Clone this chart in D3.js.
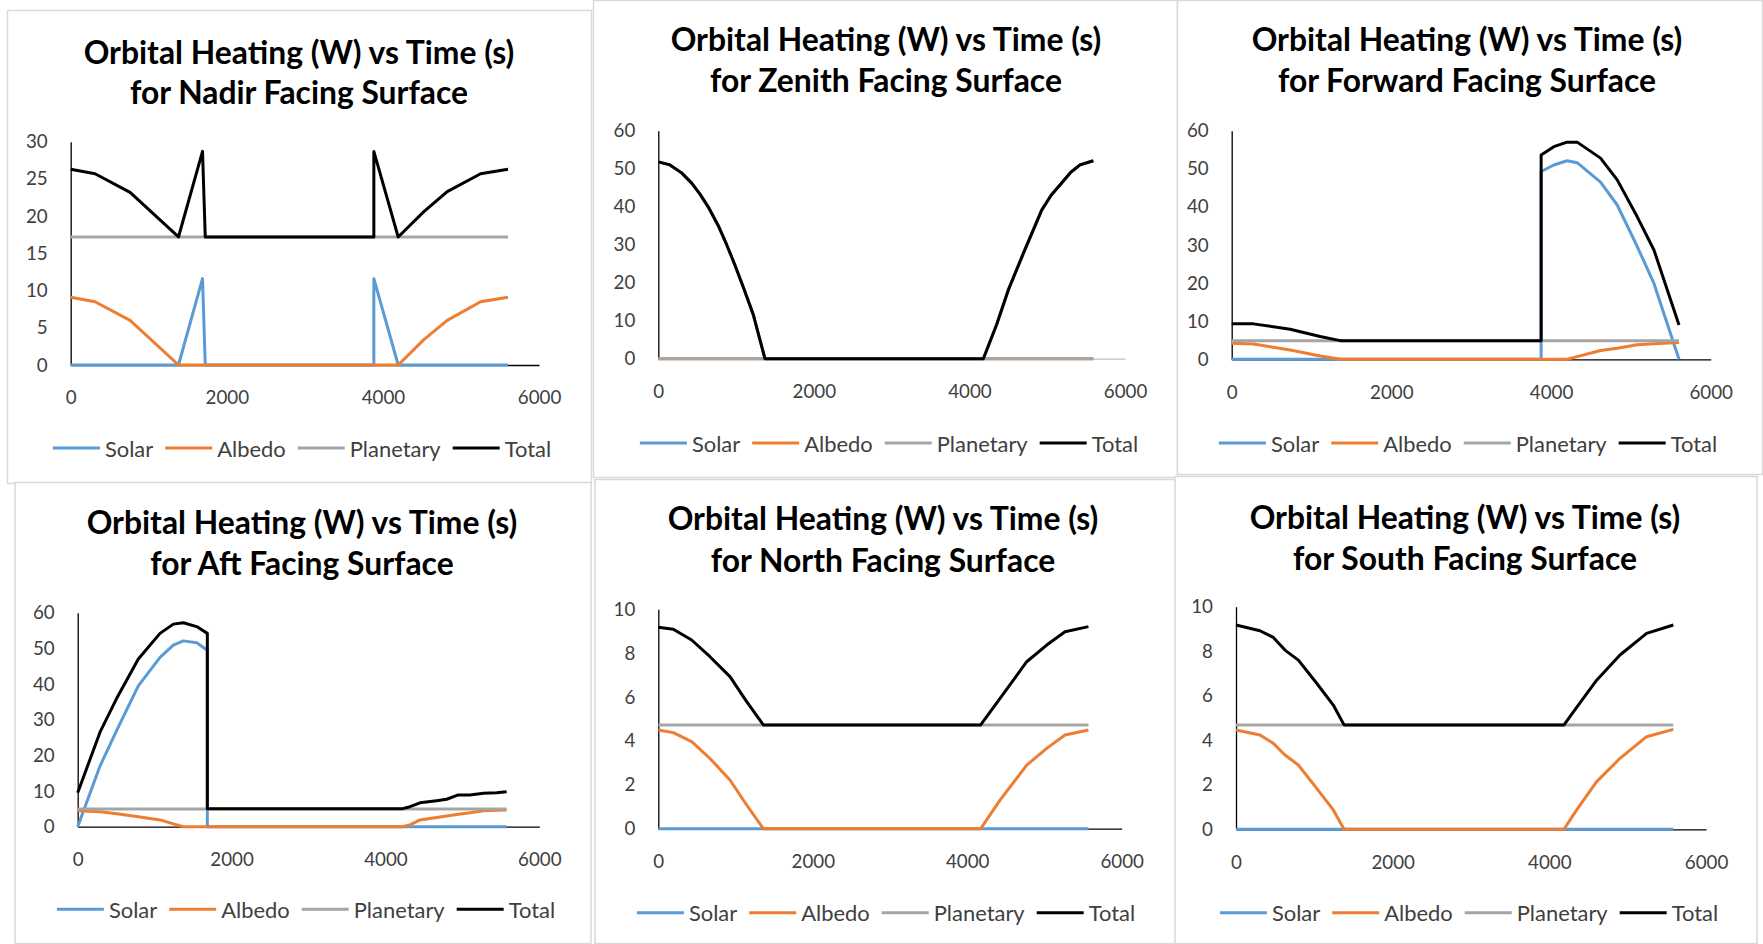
<!DOCTYPE html>
<html><head><meta charset="utf-8">
<script src="https://cdn.jsdelivr.net/npm/d3@7"></script>
<style>
html,body{margin:0;padding:0;background:#fff;}
svg{display:block;}
</style></head><body>
<svg id="c" width="1763" height="944"></svg>
<script>
// ---------------- DATA ----------------
const xTicks = [0, 2000, 4000, 6000];
const seriesNames = ["Solar", "Albedo", "Planetary", "Total"];
const seriesColors = ["#5B9BD5", "#ED7D31", "#A5A5A5", "#000000"];
const titleLine1 = "Orbital Heating (W) vs Time (s)";
const surfaceNames = ["Nadir", "Zenith", "Forward", "Aft", "North", "South"];

const nadirYTicks = [0, 5, 10, 15, 20, 25, 30];
const nadirTime = [0, 312, 761, 1381, 1689, 1724, 3884, 3884, 4196, 4525, 4824, 5252, 5603];
const nadirSolar = [0, 0, 0, 0, 11.6, 0, 0, 11.6, 0, 0, 0, 0, 0];
const nadirAlbedo = [9.1, 8.5, 6.0, 0, 0, 0, 0, 0, 0, 3.4, 6.0, 8.5, 9.1];
const nadirPlanetary = [17.2, 17.2, 17.2, 17.2, 17.2, 17.2, 17.2, 17.2, 17.2, 17.2, 17.2, 17.2, 17.2];
const nadirTotal = [26.3, 25.7, 23.2, 17.2, 28.7, 17.2, 17.2, 28.7, 17.2, 20.6, 23.3, 25.7, 26.3];

const zenithYTicks = [0, 10, 20, 30, 40, 50, 60];
const zenithTime = [0, 150, 300, 429, 536, 643, 771, 879, 986, 1093, 1221, 1371, 4179, 4350, 4500, 4693, 4929, 5050, 5164, 5300, 5421, 5593];
const zenithSolar = [51.8, 51.0, 48.9, 46.2, 43.3, 39.9, 35.0, 30.0, 24.6, 18.8, 11.6, 0, 0, 9.0, 18.1, 27.7, 39.1, 43.0, 45.7, 49.0, 51.0, 52.1];
const zenithAlbedo = [0, 0, 0, 0, 0, 0, 0, 0, 0, 0, 0, 0, 0, 0, 0, 0, 0, 0, 0, 0, 0, 0];
const zenithPlanetary = [0, 0, 0, 0, 0, 0, 0, 0, 0, 0, 0, 0, 0, 0, 0, 0, 0, 0, 0, 0, 0, 0];
const zenithTotal = [51.8, 51.0, 48.9, 46.2, 43.3, 39.9, 35.0, 30.0, 24.6, 18.8, 11.6, 0, 0, 9.0, 18.1, 27.7, 39.1, 43.0, 45.7, 49.0, 51.0, 52.1];

const forwardYTicks = [0, 10, 20, 30, 40, 50, 60];
const forwardTime = [0, 272, 732, 1108, 1359, 3876, 3876, 4035, 4202, 4327, 4620, 4829, 5080, 5289, 5603];
const forwardSolar = [0, 0, 0, 0, 0, 0, 49.3, 51.0, 52.1, 51.6, 46.5, 40.5, 29.6, 19.9, 0];
const forwardAlbedo = [4.2, 4.0, 2.45, 0.87, 0, 0, 0, 0, 0, 0.7, 2.3, 2.9, 3.8, 4.1, 4.4];
const forwardPlanetary = [4.9, 4.9, 4.9, 4.9, 4.9, 4.9, 4.9, 4.9, 4.9, 4.9, 4.9, 4.9, 4.9, 4.9, 4.9];
const forwardTotal = [9.3, 9.3, 7.9, 6.0, 4.9, 4.9, 53.6, 55.8, 57.0, 57.0, 52.8, 47.1, 37.4, 28.7, 9.0];

const aftYTicks = [0, 10, 20, 30, 40, 50, 60];
const aftTime = [0, 290, 507, 788, 1070, 1243, 1373, 1547, 1685, 1685, 4211, 4319, 4449, 4665, 4796, 4947, 5099, 5272, 5445, 5575];
const aftSolar = [0, 17.0, 27.0, 39.5, 47.5, 50.9, 52.1, 51.6, 49.5, 0, 0, 0, 0, 0, 0, 0, 0, 0, 0, 0];
const aftAlbedo = [4.5, 4.2, 3.6, 2.8, 1.9, 0.8, 0, 0, 0, 0, 0, 0.5, 1.9, 2.6, 3.0, 3.5, 3.9, 4.5, 4.6, 4.7];
const aftPlanetary = [4.95, 4.95, 4.95, 4.95, 4.95, 4.95, 4.95, 4.95, 4.95, 4.95, 4.95, 4.95, 4.95, 4.95, 4.95, 4.95, 4.95, 4.95, 4.95, 4.95];
const aftTotal = [9.5, 26.5, 36.0, 47.0, 54.2, 56.8, 57.2, 56.1, 54.2, 5.0, 5.0, 5.6, 6.7, 7.3, 7.7, 8.9, 8.9, 9.35, 9.5, 9.8];

const northYTicks = [0, 2, 4, 6, 8, 10];
const northTime = [0, 194, 432, 669, 928, 1144, 1360, 4174, 4425, 4770, 5029, 5266, 5569];
const northSolar = [0, 0, 0, 0, 0, 0, 0, 0, 0, 0, 0, 0, 0];
const northAlbedo = [4.5, 4.38, 3.97, 3.2, 2.22, 1.08, 0, 0, 1.3, 2.9, 3.66, 4.27, 4.5];
const northPlanetary = [4.73, 4.73, 4.73, 4.73, 4.73, 4.73, 4.73, 4.73, 4.73, 4.73, 4.73, 4.73, 4.73];
const northTotal = [9.18, 9.09, 8.6, 7.84, 6.93, 5.79, 4.73, 4.73, 5.94, 7.61, 8.37, 8.98, 9.21];

const southYTicks = [0, 2, 4, 6, 8, 10];
const southTime = [0, 306, 477, 625, 796, 1030, 1242, 1379, 4187, 4349, 4604, 4902, 5242, 5583];
const southSolar = [0, 0, 0, 0, 0, 0, 0, 0, 0, 0, 0, 0, 0, 0];
const southAlbedo = [4.46, 4.24, 3.86, 3.34, 2.89, 1.84, 0.87, 0, 0, 0.87, 2.14, 3.19, 4.16, 4.49];
const southPlanetary = [4.69, 4.69, 4.69, 4.69, 4.69, 4.69, 4.69, 4.69, 4.69, 4.69, 4.69, 4.69, 4.69, 4.69];
const southTotal = [9.18, 8.92, 8.62, 8.05, 7.6, 6.56, 5.58, 4.69, 4.69, 5.48, 6.7, 7.83, 8.8, 9.18];

const panels = [
  {time: nadirTime, series: [nadirSolar, nadirAlbedo, nadirPlanetary, nadirTotal], yTicks: nadirYTicks},
  {time: zenithTime, series: [zenithSolar, zenithAlbedo, zenithPlanetary, zenithTotal], yTicks: zenithYTicks},
  {time: forwardTime, series: [forwardSolar, forwardAlbedo, forwardPlanetary, forwardTotal], yTicks: forwardYTicks},
  {time: aftTime, series: [aftSolar, aftAlbedo, aftPlanetary, aftTotal], yTicks: aftYTicks},
  {time: northTime, series: [northSolar, northAlbedo, northPlanetary, northTotal], yTicks: northYTicks},
  {time: southTime, series: [southSolar, southAlbedo, southPlanetary, southTotal], yTicks: southYTicks}
];

// ---------------- LAYOUT ----------------
const layout = [
  {box: [7, 10, 584, 473], x0: 70.7, x1: 539, yb: 365, yt: 141.7, tx: 299, ty: [51.7, 91.7], lx: 302, ly: 448, axisColor: "#000"},
  {box: [593, 0, 584, 477], x0: 658.3, x1: 1125, yb: 358.7, yt: 130.7, tx: 886, ty: [39.3, 80], lx: 889, ly: 443, axisColor: "#bfbfbf"},
  {box: [1177, 0, 585, 474], x0: 1231.7, x1: 1710.7, yb: 359.3, yt: 130.7, tx: 1467, ty: [39.3, 80], lx: 1468, ly: 443, axisColor: "#000"},
  {box: [14.5, 482, 576, 461], x0: 77.7, x1: 539.3, yb: 826.7, yt: 612.7, tx: 302, ty: [521.7, 563.3], lx: 306, ly: 909.3, axisColor: "#000"},
  {box: [594.5, 479, 583, 464], x0: 658.3, x1: 1121.7, yb: 828.7, yt: 609.3, tx: 883, ty: [518.3, 560], lx: 886, ly: 912.7, axisColor: "#000"},
  {box: [1174.5, 476, 582, 467], x0: 1236, x1: 1706, yb: 829.3, yt: 606.7, tx: 1465, ty: [516.7, 558.3], lx: 1469, ly: 912.7, axisColor: "#000"}
];

const FONT = "Lato, 'Open Sans', sans-serif";
const svg = d3.select("#c");

// measure helper to choose font sizes close to the reference text widths
function widthAt(text, size, weight) {
  const t = svg.append("text").attr("font-family", FONT).attr("font-size", size)
    .attr("font-weight", weight).text(text);
  const w = t.node().getComputedTextLength();
  t.remove();
  return w;
}
const titleSize = 100 * 431 / widthAt(titleLine1, 100, "bold");
const tickSize = 100 * 43.5 / widthAt("6000", 100, "normal");
const legendSize = 100 * 91 / widthAt("Planetary", 100, "normal");

svg.append("rect").attr("width", 1763).attr("height", 944).attr("fill", "#fff");

panels.forEach((p, i) => {
  const L = layout[i];
  const g = svg.append("g");
  g.append("rect")
    .attr("x", L.box[0] + 0.5).attr("y", L.box[1] + 0.5)
    .attr("width", L.box[2]).attr("height", L.box[3])
    .attr("fill", "#fff").attr("stroke", "#d9d9d9").attr("stroke-width", 1.5);

  const yMax = d3.max(p.yTicks);
  const x = d3.scaleLinear().domain([0, d3.max(xTicks)]).range([L.x0, L.x1]);
  const y = d3.scaleLinear().domain([0, yMax]).range([L.yb, L.yt]);

  // titles
  const titleLines = [titleLine1, "for " + surfaceNames[i] + " Facing Surface"];
  titleLines.forEach((t, k) => {
    g.append("text").attr("x", L.tx).attr("y", L.ty[k])
      .attr("text-anchor", "middle").attr("dominant-baseline", "central")
      .attr("font-family", FONT).attr("font-weight", "bold")
      .attr("font-size", titleSize).attr("fill", "#000").text(t);
  });

  // axes
  const xa = g.append("g").attr("transform", `translate(0,${L.yb})`)
    .call(d3.axisBottom(x).tickValues(xTicks).tickSize(0).tickSizeOuter(0)
      .tickPadding(26).tickFormat(d3.format("d")));
  xa.select(".domain").attr("stroke", L.axisColor).attr("stroke-width", 1.3);
  const ya = g.append("g").attr("transform", `translate(${L.x0},0)`)
    .call(d3.axisLeft(y).tickValues(p.yTicks).tickSize(0).tickSizeOuter(0)
      .tickPadding(23).tickFormat(d3.format("d")));
  ya.select(".domain").attr("stroke", "#000").attr("stroke-width", 1.3);
  [xa, ya].forEach(a => {
    a.selectAll("text").attr("font-family", FONT).attr("font-size", tickSize).attr("fill", "#404040");
  });

  // series
  const line = d3.line().x((d, j) => x(p.time[j])).y(d => y(d));
  p.series.forEach((s, k) => {
    g.append("path").datum(s).attr("d", line)
      .attr("fill", "none").attr("stroke", seriesColors[k])
      .attr("stroke-width", 3).attr("stroke-linejoin", "round");
  });

  // legend
  const lineLen = 47, gap1 = 5, gap2 = 12;
  const widths = seriesNames.map(n => widthAt(n, legendSize, "normal"));
  const total = d3.sum(widths) + seriesNames.length * (lineLen + gap1) + (seriesNames.length - 1) * gap2;
  let cx = L.lx - total / 2;
  seriesNames.forEach((n, k) => {
    g.append("line").attr("x1", cx).attr("x2", cx + lineLen).attr("y1", L.ly).attr("y2", L.ly)
      .attr("stroke", seriesColors[k]).attr("stroke-width", 3);
    g.append("text").attr("x", cx + lineLen + gap1).attr("y", L.ly)
      .attr("dominant-baseline", "central").attr("font-family", FONT)
      .attr("font-size", legendSize).attr("fill", "#404040").text(n);
    cx += lineLen + gap1 + widths[k] + gap2;
  });
});
</script>
</body></html>
